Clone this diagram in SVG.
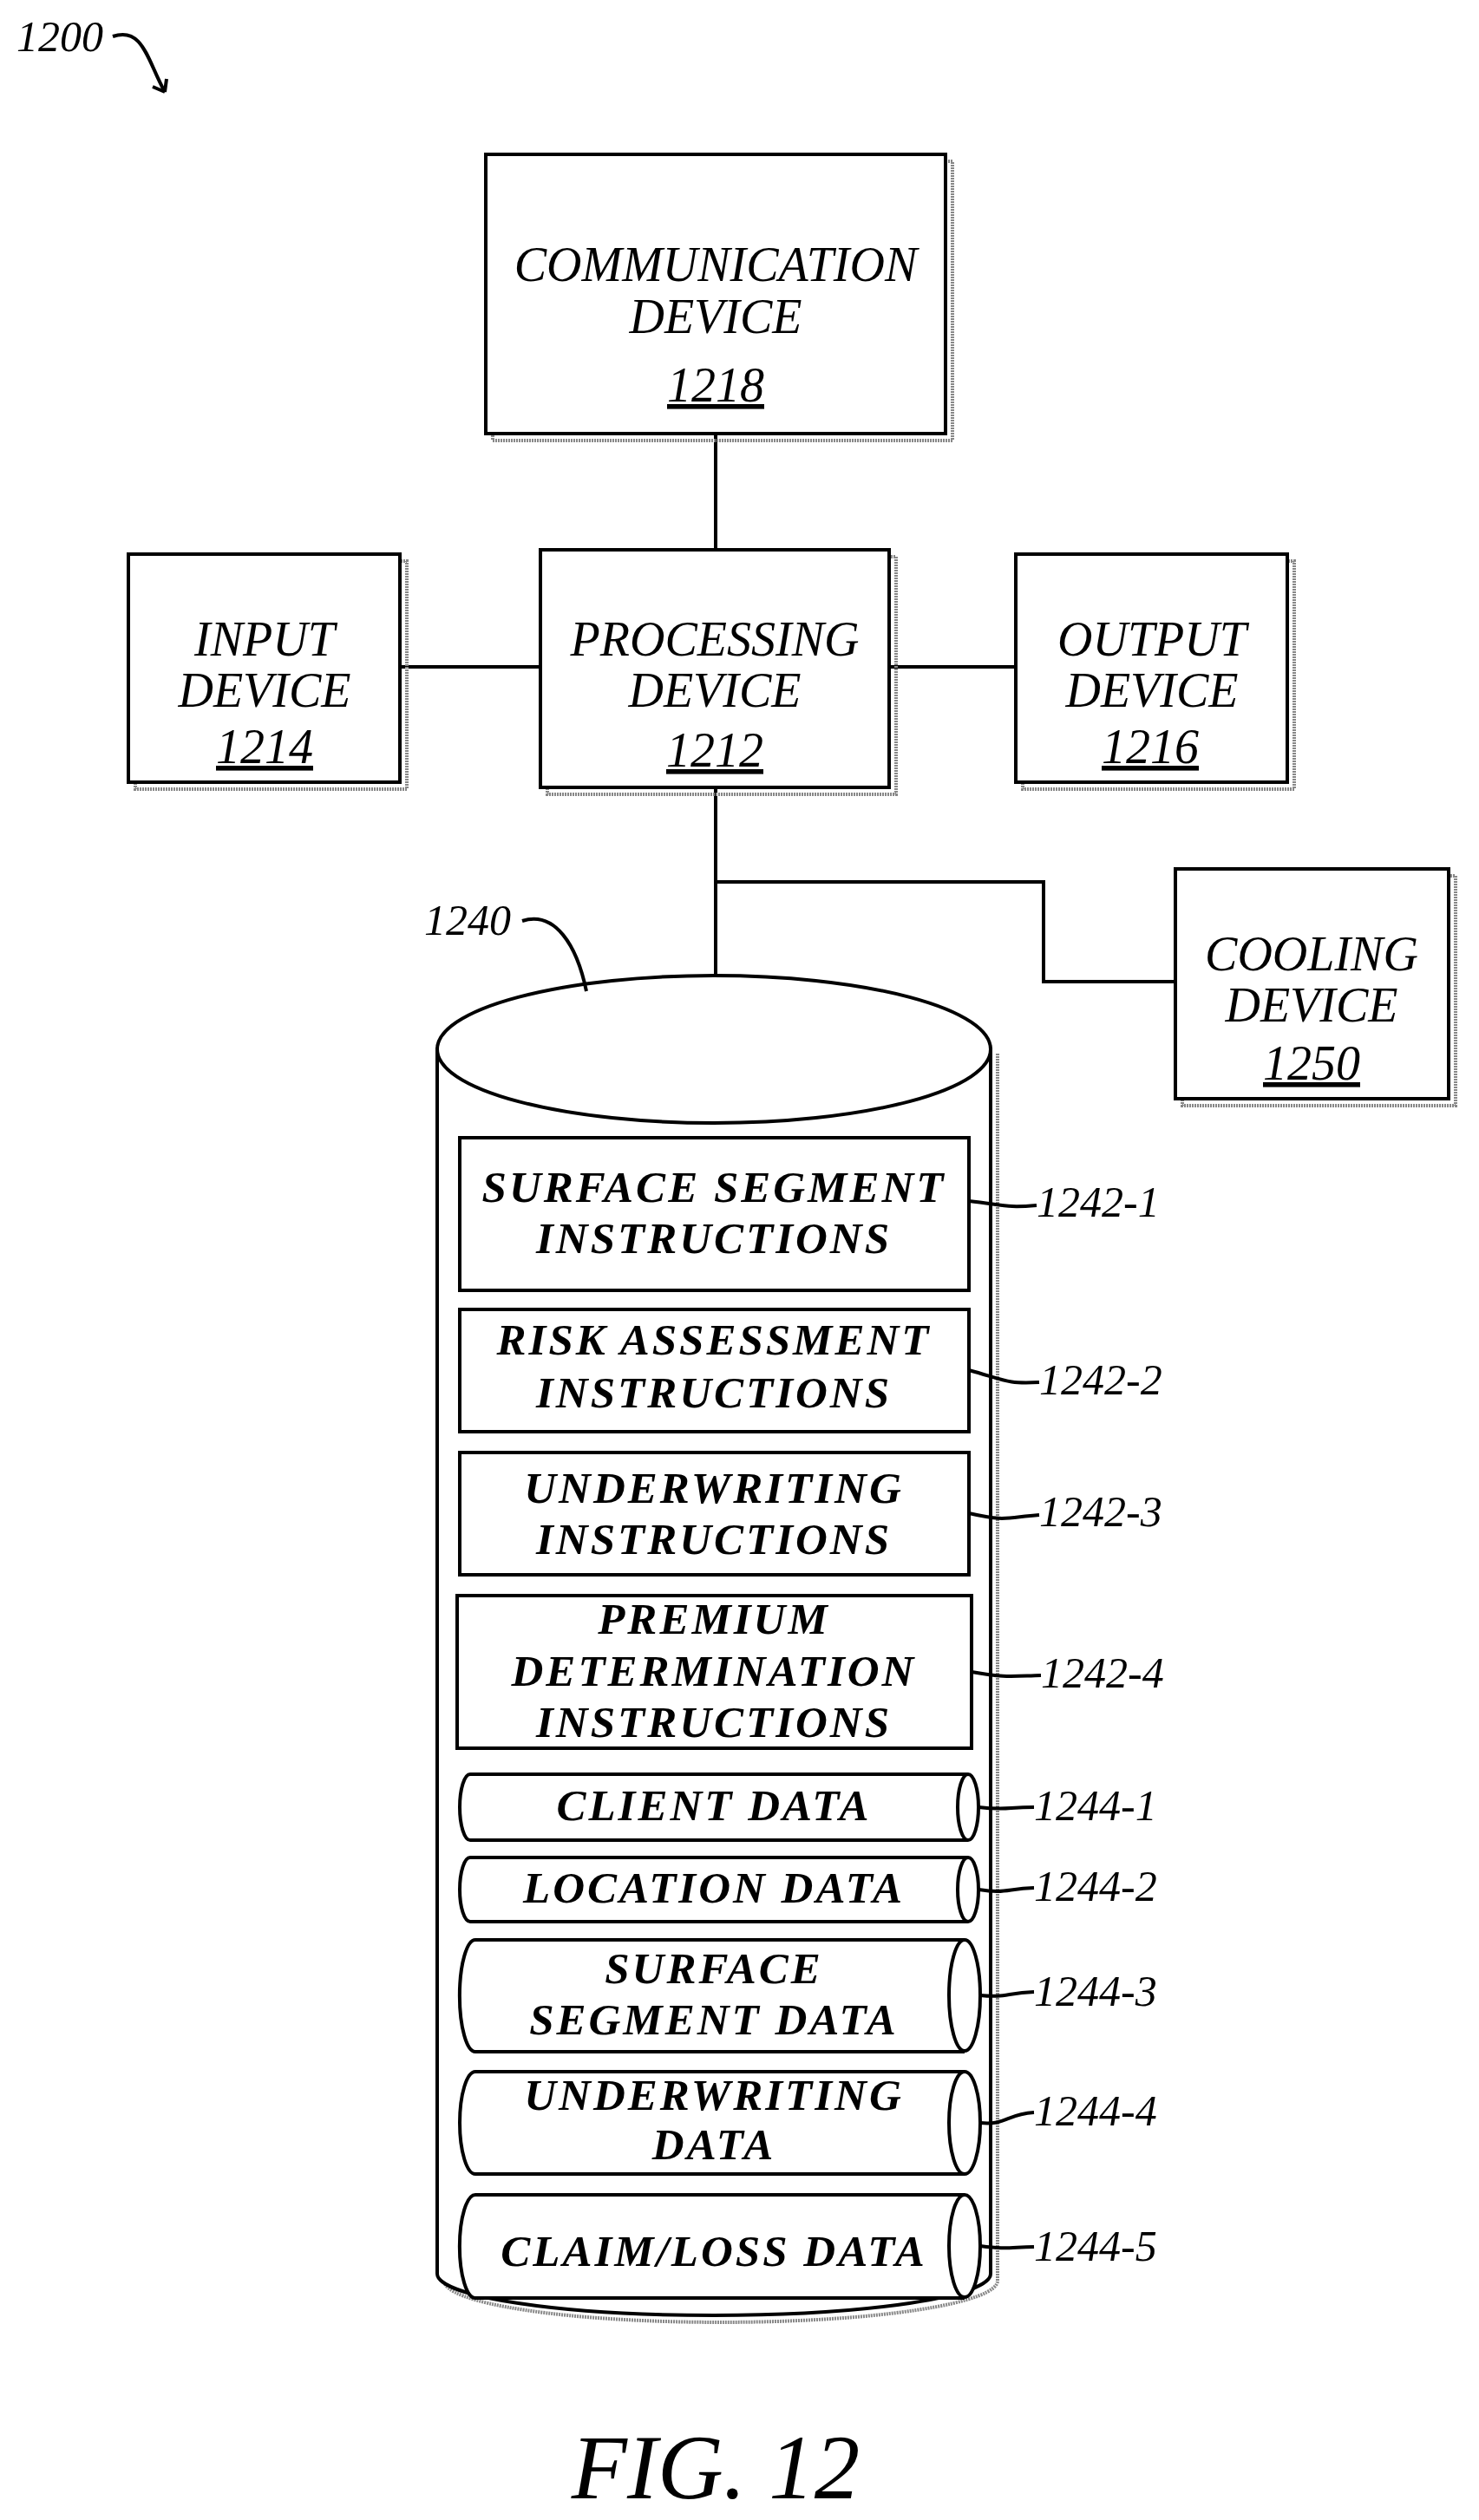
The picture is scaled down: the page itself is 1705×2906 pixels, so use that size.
<svg xmlns="http://www.w3.org/2000/svg" width="1705" height="2906" viewBox="0 0 1705 2906">
<style>
.b{fill:#fff;stroke:#000;stroke-width:4}
.s{fill:none;stroke:#888;stroke-width:4;stroke-dasharray:2 1}
.l{fill:none;stroke:#000;stroke-width:4}
.t{font-family:"Liberation Serif",serif;font-style:italic;font-size:56px;text-anchor:middle;fill:#000}
.d{font-family:"Liberation Serif",serif;font-style:italic;font-weight:bold;font-size:51px;text-anchor:middle;fill:#000;letter-spacing:3px}
.n{font-family:"Liberation Serif",serif;font-style:italic;font-size:50px;fill:#000}
</style>
<text class="n" x="19" y="59">1200</text>
<path class="l" d="M130 42 C165 30 170 70 190 106" stroke-width="3"/>
<path d="M190 106 l-14 -6 M190 106 l2 -15" class="l" stroke-width="3"/>
<g id="connectors">
<path class="l" d="M825 500 V634 M461 769 H623 M1025 769 H1171 M825 908 V1127 M825 1017 H1203 V1132 H1355"/>
</g>
<g id="n1218"><rect class="s" x="568" y="186" width="530" height="322"/><rect class="b" x="560" y="178" width="530" height="322"/>
<text class="t" x="825" y="324">COMMUNICATION</text><text class="t" x="825" y="384">DEVICE</text><text class="t" x="825" y="463" text-decoration="underline">1218</text></g>
<g id="n1212"><rect class="s" x="631" y="642" width="402" height="274"/><rect class="b" x="623" y="634" width="402" height="274"/>
<text class="t" x="824" y="756">PROCESSING</text><text class="t" x="824" y="815">DEVICE</text><text class="t" x="824" y="884" text-decoration="underline">1212</text></g>
<g id="n1214"><rect class="s" x="156" y="647" width="313" height="263"/><rect class="b" x="148" y="639" width="313" height="263"/>
<text class="t" x="305" y="756">INPUT</text><text class="t" x="305" y="815">DEVICE</text><text class="t" x="305" y="880" text-decoration="underline">1214</text></g>
<g id="n1216"><rect class="s" x="1179" y="647" width="313" height="263"/><rect class="b" x="1171" y="639" width="313" height="263"/>
<text class="t" x="1328" y="756">OUTPUT</text><text class="t" x="1328" y="815">DEVICE</text><text class="t" x="1326" y="880" text-decoration="underline">1216</text></g>
<g id="n1250"><rect class="s" x="1363" y="1010" width="315" height="265"/><rect class="b" x="1355" y="1002" width="315" height="265"/>
<text class="t" x="1512" y="1119">COOLING</text><text class="t" x="1512" y="1178">DEVICE</text><text class="t" x="1512" y="1245" text-decoration="underline">1250</text></g>
<g id="n1240">
<path class="s" d="M1150 1215 V2630 A319 48 0 0 1 512 2630"/>
<path class="b" d="M504 1210 V2622 A319 48 0 0 0 1142 2622 V1210 Z"/>
<ellipse class="b" cx="823" cy="1210" rx="319" ry="85"/>
<text class="n" x="489" y="1078">1240</text>
<path class="l" d="M602 1062 C640 1050 665 1090 676 1143" stroke-width="3"/>
</g>
<g id="items">
<rect class="b" x="530" y="1312" width="587" height="176"/>
<text class="d" x="823" y="1386">SURFACE SEGMENT</text><text class="d" x="823" y="1445">INSTRUCTIONS</text>
<rect class="b" x="530" y="1510" width="587" height="141"/>
<text class="d" x="823" y="1562">RISK ASSESSMENT</text><text class="d" x="823" y="1623">INSTRUCTIONS</text>
<rect class="b" x="530" y="1675" width="587" height="141"/>
<text class="d" x="823" y="1733">UNDERWRITING</text><text class="d" x="823" y="1792">INSTRUCTIONS</text>
<rect class="b" x="527" y="1840" width="593" height="176"/>
<text class="d" x="823" y="1884">PREMIUM</text><text class="d" x="823" y="1944">DETERMINATION</text><text class="d" x="823" y="2003">INSTRUCTIONS</text>
<path class="b" d="M1116 2046 H542 A12 38 0 0 0 542 2122 H1116"/><ellipse class="b" cx="1116" cy="2084" rx="12" ry="38"/>
<text class="d" x="823" y="2099">CLIENT DATA</text>
<path class="b" d="M1116 2142 H542 A12 37 0 0 0 542 2216 H1116"/><ellipse class="b" cx="1116" cy="2179" rx="12" ry="37"/>
<text class="d" x="823" y="2194">LOCATION DATA</text>
<path class="b" d="M1112 2237 H548 A18 64 0 0 0 548 2366 H1112"/><ellipse class="b" cx="1112" cy="2301" rx="18" ry="64"/>
<text class="d" x="823" y="2287">SURFACE</text><text class="d" x="823" y="2346">SEGMENT DATA</text>
<path class="b" d="M1112 2389 H548 A18 59 0 0 0 548 2507 H1112"/><ellipse class="b" cx="1112" cy="2448" rx="18" ry="59"/>
<text class="d" x="823" y="2433">UNDERWRITING</text><text class="d" x="823" y="2490">DATA</text>
<path class="b" d="M1112 2531 H548 A18 59 0 0 0 548 2650 H1112"/><ellipse class="b" cx="1112" cy="2590" rx="18" ry="59"/>
<text class="d" x="823" y="2613">CLAIM/LOSS DATA</text>
</g>
<g id="labels" class="n">
<path class="l" stroke-width="3" d="M1117 1385 C1160 1390 1160 1393 1195 1390 M1117 1580 C1160 1592 1160 1596 1198 1594 M1117 1745 C1160 1755 1160 1750 1198 1747 M1120 1928 C1160 1935 1165 1933 1200 1932 M1128 2084 C1160 2088 1160 2084 1192 2084 M1128 2179 C1160 2184 1160 2178 1192 2177 M1130 2301 C1160 2304 1160 2298 1192 2297 M1130 2448 C1160 2451 1160 2438 1192 2436 M1130 2590 C1160 2594 1160 2592 1192 2591"/>
<text x="1195" y="1403">1242-1</text><text x="1198" y="1608">1242-2</text><text x="1198" y="1760">1242-3</text><text x="1200" y="1946">1242-4</text>
<text x="1192" y="2099">1244-1</text><text x="1192" y="2192">1244-2</text><text x="1192" y="2313">1244-3</text><text x="1192" y="2451">1244-4</text><text x="1192" y="2607">1244-5</text>
</g>
<text x="825" y="2881" font-family="Liberation Serif,serif" font-style="italic" font-size="105" text-anchor="middle">FIG. 12</text>
</svg>
